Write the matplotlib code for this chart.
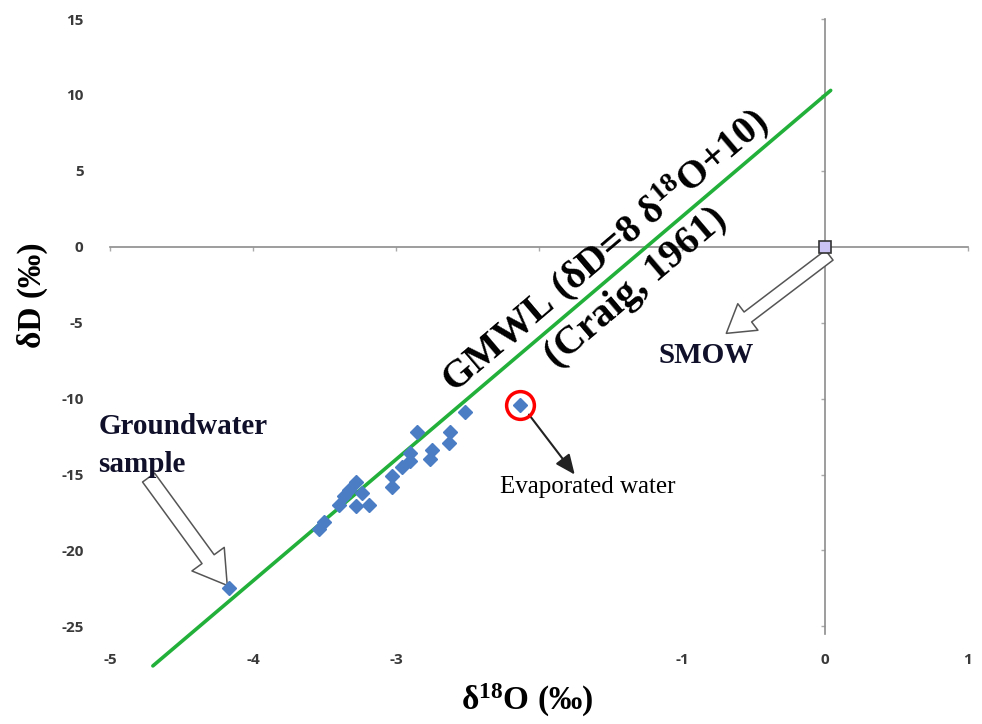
import matplotlib.pyplot as plt
import numpy as np

plt.rcParams["mathtext.fontset"] = "custom"
plt.rcParams["mathtext.rm"] = "Liberation Serif:bold"
plt.rcParams["mathtext.bf"] = "Liberation Serif:bold"
plt.rcParams["mathtext.it"] = "Liberation Serif:italic:bold"
plt.rcParams["axes.unicode_minus"] = False

# groundwater samples (delta 18O, delta D)
sample_d18o = [-2.52, -2.85, -2.62, -2.63, -2.75, -2.76, -2.90, -2.90, -2.96,
               -3.03, -3.03, -3.28, -3.24, -3.36, -3.28, -3.19, -3.33, -3.40,
               -3.50, -3.54]
sample_dd = [-10.9, -12.2, -12.2, -12.9, -13.4, -14.0, -13.6, -14.1, -14.5,
             -15.1, -15.8, -15.5, -16.2, -16.4, -17.1, -17.0, -16.0, -17.0,
             -18.1, -18.6]
groundwater_pt = (-4.17, -22.5)
evaporated_pt = (-2.13, -10.4)
smow_pt = (0.0, 0.0)

# GMWL  dD = 8 d18O + 10, end points as drawn
gmwl_x = [-4.70, 0.04]
gmwl_y = [-27.6, 10.3]

xticks = [-5, -4, -3, -2, -1, 0, 1]
xtick_labels = ["-5", "-4", "-3", "", "-1", "0", "1"]
yticks = [-25, -20, -15, -10, -5, 0, 5, 10, 15]

BLUE = "#4a7dc4"
GREEN = "#22b03a"
AXGRAY = "#8c8c8c"
NAVY = "#10102a"
SERIF = "Liberation Serif"

fig = plt.figure(figsize=(9.82, 7.24), dpi=100)
ax = fig.add_axes([0.1120, 0.1243, 0.8737, 0.8494])
ax.set_xlim(-5, 1)
ax.set_ylim(-25.5, 15)

# axes cross at the origin, Excel style
for side in ("top", "right"):
    ax.spines[side].set_visible(False)
ax.spines["left"].set_position(("data", 0))
ax.spines["bottom"].set_position(("data", 0))
for side in ("left", "bottom"):
    ax.spines[side].set_color(AXGRAY)
    ax.spines[side].set_linewidth(1.2)
ax.set_xticks(xticks)
ax.set_yticks(yticks)
ax.tick_params(labelbottom=False, labelleft=False, direction="out",
               length=3, color="#aaaaaa", width=1)

# tick labels sit at the low edge, not on the crossing axes
tick_font = dict(family="Open Sans", size=11, weight="bold")
secx = ax.secondary_xaxis("bottom")
secx.set_xticks(xticks, labels=xtick_labels)
secx.tick_params(length=0, pad=14, labelcolor="#3a3a3a")
secy = ax.secondary_yaxis("left")
secy.set_yticks(yticks, labels=[str(v) for v in yticks])
secy.tick_params(length=0, pad=19, labelcolor="#3a3a3a")
for sec in (secx, secy):
    for sp in sec.spines.values():
        sp.set_visible(False)
for lab in secx.get_xticklabels() + secy.get_yticklabels():
    lab.set_fontproperties(tick_font)

# GMWL
ax.plot(gmwl_x, gmwl_y, color=GREEN, lw=2.6, clip_on=False, zorder=3,
        solid_capstyle="round")

# samples
ax.plot(sample_d18o, sample_dd, "D", color=BLUE, ms=7.5, mec=BLUE, zorder=4)
ax.plot(*groundwater_pt, "D", color=BLUE, ms=7.5, zorder=4)
ax.plot(*evaporated_pt, "D", color=BLUE, ms=7.5, zorder=4)
ax.plot(*evaporated_pt, "o", mfc="none", mec="red", ms=20, mew=2.5, zorder=5)
ax.plot(*smow_pt, "s", color="#c9c2f2", mec="#333333", ms=9, mew=1.2,
        zorder=5, clip_on=False)

# GMWL labels, rotated along the line
p0 = ax.transData.transform((gmwl_x[0], gmwl_y[0]))
p1 = ax.transData.transform((gmwl_x[1], gmwl_y[1]))
ang = np.degrees(np.arctan2(p1[1] - p0[1], p1[0] - p0[0]))
ax.text(-1.54, -0.30, r"GMWL (δD=8 δ$^{18}$O+10)", rotation=ang,
        rotation_mode="anchor", ha="center", va="center",
        family=SERIF, weight="bold", size=28.5, zorder=6)
ax.text(-1.32, -2.7, "(Craig, 1961)", rotation=ang, rotation_mode="anchor",
        ha="center", va="center", family=SERIF, weight="bold", size=29,
        zorder=6)

# hollow callout arrows
ax.annotate("", xy=(groundwater_pt[0] - 0.01, groundwater_pt[1] + 0.2),
            xytext=(-4.73, -15.2),
            arrowprops=dict(arrowstyle="simple,head_length=1.3,head_width=1.6,tail_width=0.6",
                            fc="white", ec="#555555", lw=1.1,
                            mutation_scale=18, shrinkA=0, shrinkB=0))
ax.annotate("", xy=(-0.69, -5.7), xytext=(0.03, -0.55),
            arrowprops=dict(arrowstyle="simple,head_length=1.3,head_width=1.6,tail_width=0.6",
                            fc="white", ec="#555555", lw=1.1,
                            mutation_scale=15, shrinkA=0, shrinkB=0))
ax.annotate("", xy=(-1.75, -15.0), xytext=(-2.07, -11.05),
            arrowprops=dict(arrowstyle="-|>,head_length=0.8,head_width=0.35",
                            color="#222222", lw=1.5, mutation_scale=15,
                            shrinkA=0, shrinkB=0))

ax.text(-1.66, -15.85, "Evaporated water", ha="center", va="center",
        family=SERIF, size=18)
ax.text(-5.08, -12.3, "Groundwater", ha="left", va="baseline",
        family=SERIF, weight="bold", size=21, color=NAVY, clip_on=False)
ax.text(-5.08, -14.8, "sample", ha="left", va="baseline",
        family=SERIF, weight="bold", size=21, color=NAVY, clip_on=False)
ax.text(-0.83, -7.63, "SMOW", ha="center", va="baseline",
        family=SERIF, weight="bold", size=21, color=NAVY)

fig.text(32 / 982, 1 - 295 / 724, "δD (‰)", rotation=90, ha="center",
         va="center", family=SERIF, weight="bold", size=24)
fig.text(527 / 982, 1 - 700 / 724, r"δ$^{18}$O (‰)", ha="center",
         va="center", family=SERIF, weight="bold", size=24)

fig.savefig("out.png", dpi=100)
